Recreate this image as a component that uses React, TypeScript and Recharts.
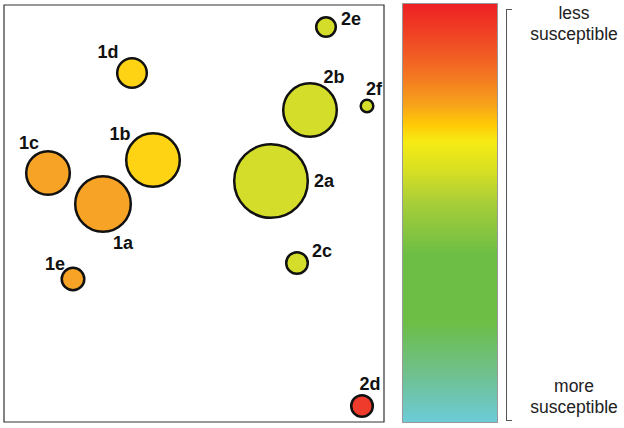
import React from "react";
import { ScatterChart, Scatter, XAxis, YAxis, ZAxis, ReferenceArea, LabelList } from "recharts";

// strains, position in the plot (x right, y down) and bubble size (area-like)
const NAMES = ["1a", "1b", "1c", "1d", "1e", "2a", "2b", "2c", "2d", "2e", "2f"];
const XS = [99, 149, 44, 128, 69, 267, 306, 293, 358, 322, 363];
const YS = [199, 155, 168, 68, 274, 176, 105, 258, 401, 22, 101];
const SIZES = [841, 784, 529, 256, 156, 1444, 784, 144, 144, 121, 56];
const LEVELS = ["mid", "high", "mid", "high", "mid", "low", "low", "low", "top", "low", "low"];

const LEVEL_COLORS: Record<string, string> = {
  top: "#EE3B2C",
  mid: "#F7A325",
  high: "#FDD314",
  low: "#D4DE2A",
};

// where each label sits relative to its bubble
const LABEL_OFFSET: Record<string, [number, number]> = {
  "1a": [20, 39],
  "1b": [-33, -26],
  "1c": [-19, -30],
  "1d": [-24, -21],
  "1e": [-18, -15],
  "2a": [53, 0],
  "2b": [24, -33],
  "2c": [25, -12],
  "2d": [8, -22],
  "2e": [25, -8],
  "2f": [7, -17],
};

const data = NAMES.map((name, i) => ({
  name,
  x: XS[i],
  y: YS[i],
  size: SIZES[i],
  level: LEVELS[i],
}));

const FONT = "'Liberation Sans', Arial, sans-serif";

function Bubble(props: any) {
  const { cx, cy, width, payload } = props;
  const r = Math.max(width / 2 - 1.2, 0);
  return (
    <circle
      cx={cx}
      cy={cy}
      r={r}
      fill={LEVEL_COLORS[payload.level]}
      stroke="#111"
      strokeWidth={2.5}
    />
  );
}

function BubbleLabel(props: any) {
  const { x, y, width, height, value } = props;
  const [dx, dy] = LABEL_OFFSET[value] || [0, 0];
  const cx = x + width / 2;
  const cy = y + height / 2;
  return (
    <text
      x={cx + dx}
      y={cy + dy}
      textAnchor="middle"
      dominantBaseline="central"
      fontFamily={FONT}
      fontWeight="bold"
      fontSize={18}
      fill="#111"
    >
      {value}
    </text>
  );
}

const textStyle: React.CSSProperties = {
  position: "absolute",
  left: 518,
  width: 112,
  textAlign: "center",
  fontFamily: FONT,
  fontSize: 17.5,
  lineHeight: "21px",
  color: "#222",
};

export default function App() {
  return (
    <div style={{ position: "relative", width: 624, height: 428, background: "#fff" }}>
      <style>{"body{margin:0}"}</style>
      <ScatterChart width={624} height={428} margin={{ top: 5, right: 240, bottom: 6, left: 4 }}>
        <XAxis type="number" dataKey="x" domain={[0, 380]} hide />
        <YAxis type="number" dataKey="y" domain={[0, 417]} reversed hide />
        <ZAxis type="number" dataKey="size" domain={[0, 1444]} range={[0, 1444 * Math.PI]} />
        <ReferenceArea x1={0} x2={380} y1={0} y2={417} fill="none" stroke="#333" strokeWidth={1.2} />
        <Scatter data={data} shape={<Bubble />} isAnimationActive={false}>
          <LabelList dataKey="name" content={<BubbleLabel />} />
        </Scatter>
      </ScatterChart>
      <div
        style={{
          position: "absolute",
          left: 402,
          top: 3,
          width: 94,
          height: 418,
          border: "1px solid #999",
          background:
            "linear-gradient(to bottom, #ED2024 0%, #F15A24 12%, #F47B20 18%, #F7A21B 24%, #FFCB05 29%, #F6EB14 33%, #D7DF23 40%, #A5CD39 48%, #6DBE45 60%, #6CBE45 76%, #6FC08A 88%, #6CCBD8 100%)",
        }}
      />
      <div
        style={{
          position: "absolute",
          left: 506,
          top: 9,
          width: 5,
          height: 410,
          borderLeft: "1.2px solid #555",
          borderTop: "1px solid #555",
          borderBottom: "1px solid #555",
        }}
      />
      <div style={{ ...textStyle, top: 3 }}>
        less
        <br />
        susceptible
      </div>
      <div style={{ ...textStyle, top: 376 }}>
        more
        <br />
        susceptible
      </div>
    </div>
  );
}
